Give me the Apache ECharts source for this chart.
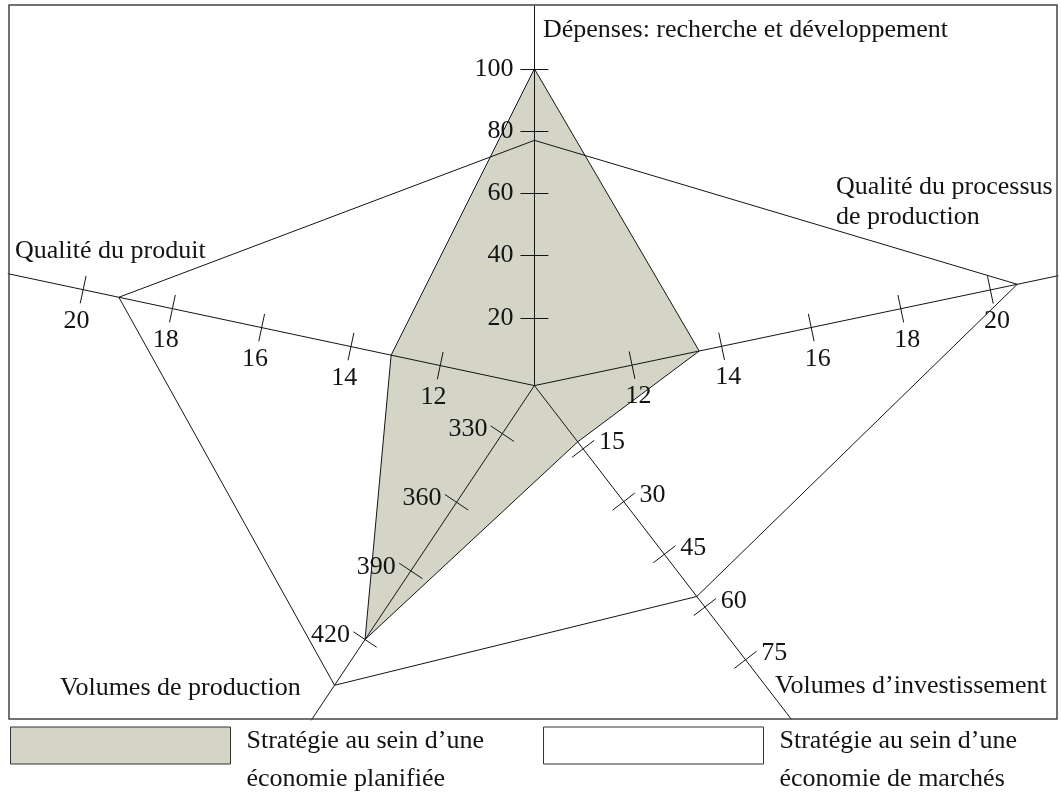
<!DOCTYPE html>
<html>
<head>
<meta charset="utf-8">
<script src="https://cdn.jsdelivr.net/npm/echarts@6/dist/echarts.min.js"></script>
<style>
  html, body { margin: 0; padding: 0; background: #fff; }
  #main { width: 1061px; height: 809px; }
</style>
</head>
<body>
<div id="main"></div>
<script>
// axes, clockwise from the top
var axisNames = ['Dépenses: recherche et développement', 'Qualité du processus\nde production', 'Volumes d’investissement', 'Volumes de production', 'Qualité du produit'];
var planned = [100, 13.5, 13, 420, 13.1];
var market = [77, 20.6, 57, 440, 19.2];
var ticksRD = [20, 40, 60, 80, 100];
var ticksProcess = [12, 14, 16, 18, 20];
var ticksInvest = [15, 30, 45, 60, 75];
var ticksVolume = [330, 360, 390, 420];
var ticksProduct = [12, 14, 16, 18, 20];
var seriesNames = ['Stratégie au sein d’une\néconomie planifiée', 'Stratégie au sein d’une\néconomie de marchés'];

var tickLists = [ticksRD, ticksProcess, ticksInvest, ticksVolume, ticksProduct];

// layout of every axis: direction, value at the centre, value where it meets the frame, length in px
var center = [534.4, 385.6];
var axisAngle = [90, 11.85, 307.6, 236.3, 168];
var axisMin = [-1.8, 9.82, -3, 309, 9.89];
var axisMax = [120.3, 21.51, 91.9, 455.2, 21.68];
var axisLen = [380, 535, 421, 402, 538];
// where the tick labels sit
var labelMargin = [21, -32, 20, -18, 32];
var labelAlign = ['right', 'center', 'left', 'right', 'center'];
var labelDrop = [false, false, true, true, false];

var font = 'Liberation Serif';
var ink = '#141414';
var fillPlanned = '#d4d5c7';

var polars = [], angleAxes = [], radiusAxes = [];
// two polar systems per axis: the second one only draws the other half of each tick
for (var side = 0; side < 2; side++) {
  for (var i = 0; i < 5; i++) {
    var k = polars.length;
    polars.push({ center: center, radius: axisLen[i] });
    angleAxes.push({ polarIndex: k, type: 'value', min: 0, max: 360, startAngle: axisAngle[i], show: false });
    radiusAxes.push({
      polarIndex: k,
      type: 'value',
      min: axisMin[i],
      max: axisMax[i],
      z: 3,
      axisLine: { show: side === 0, lineStyle: { color: ink, width: 1 } },
      axisTick: { show: true, length: side === 0 ? 14 : -14, customValues: tickLists[i], lineStyle: { color: ink, width: 1 } },
      axisLabel: {
        show: side === 0,
        customValues: tickLists[i],
        margin: labelMargin[i],
        align: labelAlign[i],
        verticalAlign: 'middle',
        // an empty first line pushes the number a little lower on the slanted axes
        formatter: labelDrop[i] ? function (v) { return '{g| }\n' + v; } : '{value}',
        rich: { g: { fontSize: 10, lineHeight: 12 } },
        lineHeight: 28,
        fontFamily: font,
        fontSize: 26,
        color: ink
      },
      splitLine: { show: false },
      splitArea: { show: false }
    });
  }
}

var nameText = function (text, x, y) {
  return { type: 'text', x: x, y: y, z: 5, style: { text: text, font: '26px "' + font + '"', fill: ink, verticalAlign: 'middle', lineHeight: 30 } };
};

var option = {
  backgroundColor: '#fff',
  animation: false,
  polar: polars,
  angleAxis: angleAxes,
  radiusAxis: radiusAxes,
  legend: {
    left: 5,
    top: 688,
    icon: 'rect',
    selectedMode: false,
    itemWidth: 220,
    itemHeight: 37,
    itemGap: 59,
    formatter: function (name) {
      return '{gap| }\n' + name;
    },
    textStyle: {
      fontFamily: font, fontSize: 26, lineHeight: 38, color: ink, padding: [0, 0, 0, 11],
      rich: { gap: { fontSize: 10, lineHeight: 29 } }
    },
    data: [
      { name: seriesNames[0], itemStyle: { color: fillPlanned, borderColor: '#333', borderWidth: 1 } },
      { name: seriesNames[1], itemStyle: { color: '#fff', borderColor: '#333', borderWidth: 1 } }
    ]
  },
  graphic: [
    { type: 'rect', z: 5, shape: { x: 9, y: 5, width: 1048, height: 714 }, style: { fill: 'none', stroke: '#444', lineWidth: 1.5 } },
    nameText(axisNames[0], 543, 30),
    nameText(axisNames[1], 836, 202),
    nameText(axisNames[2], 775, 686),
    nameText(axisNames[3], 60, 688),
    nameText(axisNames[4], 15, 251)
  ],
  series: []
};

var chart = echarts.init(document.getElementById('main'));
chart.setOption(option);

// each vertex goes through the scale of its own axis
function vertices(values) {
  return values.map(function (v, i) {
    return chart.convertToPixel({ polarIndex: i }, [v, 0]);
  });
}
var plannedPts = vertices(planned);
var marketPts = vertices(market);

chart.setOption({
  series: [
    {
      name: seriesNames[0],
      type: 'custom',
      coordinateSystem: 'none',
      z: 1,
      data: [0],
      itemStyle: { color: fillPlanned, borderColor: '#333', borderWidth: 1 },
      renderItem: function () {
        return { type: 'polygon', shape: { points: plannedPts }, style: { fill: fillPlanned, stroke: ink, lineWidth: 1 } };
      }
    },
    {
      name: seriesNames[1],
      type: 'custom',
      coordinateSystem: 'none',
      z: 4,
      data: [0],
      itemStyle: { color: '#fff', borderColor: '#333', borderWidth: 1 },
      renderItem: function () {
        return { type: 'polygon', shape: { points: marketPts }, style: { fill: 'none', stroke: ink, lineWidth: 1 } };
      }
    }
  ]
});
</script>
</body>
</html>
